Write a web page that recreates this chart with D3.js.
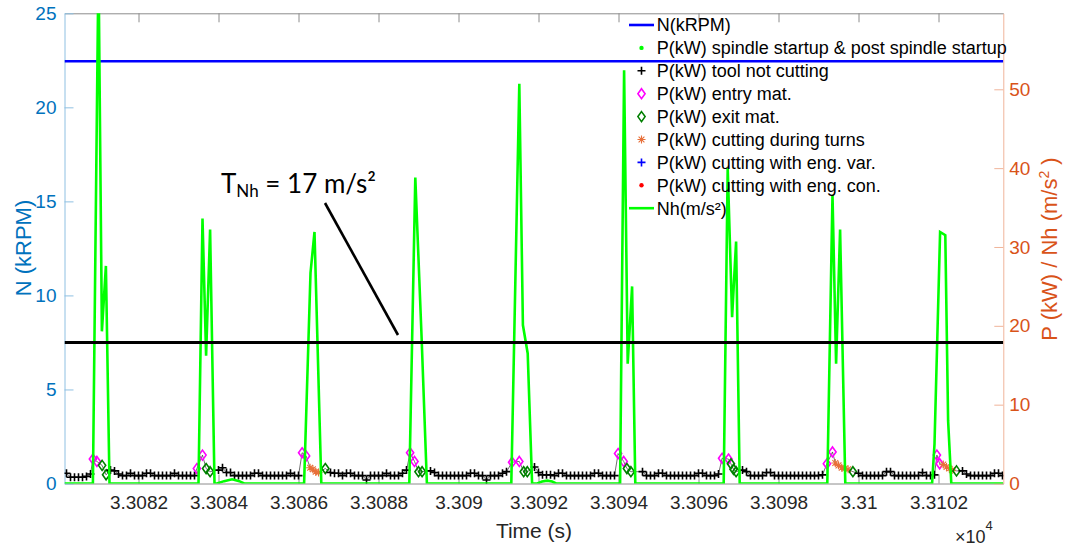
<!DOCTYPE html>
<html><head><meta charset="utf-8">
<script src="https://cdn.jsdelivr.net/npm/d3@7"></script>
<style>
html,body{margin:0;padding:0;background:#fff;}
svg{display:block;font-family:"Liberation Sans",Arial,sans-serif;}
</style></head><body>
<svg id="c" width="1067" height="550"></svg>
<script>
// ---------------- data ----------------
const timeDomain = [33080.15, 33103.62];          // seconds
const xTickVals = [33082,33084,33086,33088,33090,33092,33094,33096,33098,33100,33102];
const xTickLabels = ["3.3082","3.3084","3.3086","3.3088","3.309","3.3092","3.3094","3.3096","3.3098","3.31","3.3102"];
const nDomain = [0, 25];
const nTicks = [0,5,10,15,20,25];
const pDomain = [0, 59.64];
const pTicks = [0,10,20,30,40,50];

// spindle speed N (kRPM)
const nT = [33080.15, 33103.62];
const nV = [22.45, 22.45];
// threshold line (left axis, kRPM scale)
const thresholdN = 7.5;

// Nh (m/s^2)
const nhT = [33080.15, 33080.86, 33081.0, 33081.085, 33081.185, 33081.275,
  33083.5, 33083.6, 33083.69, 33083.79, 33083.9,
  33083.96, 33084.14, 33084.34, 33084.52, 33084.64,
  33086.14, 33086.3, 33086.4, 33086.57,
  33088.77, 33088.92, 33089.08, 33089.21,
  33091.32, 33091.52, 33091.61, 33091.73, 33091.84,
  33091.97, 33092.09, 33092.22, 33092.34, 33092.44,
  33094.04, 33094.14, 33094.23, 33094.34, 33094.42,
  33096.63, 33096.73, 33096.84, 33096.94, 33097.03,
  33099.22, 33099.35, 33099.44, 33099.54, 33099.67,
  33101.84, 33101.9, 33102.04, 33102.17, 33102.24, 33102.32,
  33103.62];
const nhV = [0, 0, 66, 19.3, 27.6, 0,
  0, 33.6, 16.2, 32.2, 0,
  0, 0.3, 0.53, 0.3, 0,
  0, 26.7, 31.9, 0,
  0, 38.8, 18.2, 0,
  0, 50.7, 20.1, 16.5, 0,
  0, 0.25, 0.36, 0.25, 0,
  0, 52.4, 15.2, 25.0, 0,
  0, 40.0, 21.1, 30.7, 0,
  0, 36.6, 15.2, 32.2, 0,
  0, 5, 31.9, 31.5, 8, 0,
  0];

// P (kW) tool not cutting: segments sampled every 0.1 s
const idleStarts = [33080.2, 33081.3, 33084.0, 33086.8, 33089.3, 33091.9, 33094.6, 33097.1, 33100.0, 33102.6];
const idleStep = 0.1;
const idleKW = [
  [1.3, 0.8, 0.8, 0.8, 0.8, 0.9, 1.2],
  [1.7, 1.6, 1.2, 1.0, 1.0, 1.3, 1.0, 1.0, 1.0, 1.3, 1.3, 1.0, 1.0, 1.0, 1.0, 1.0, 1.3, 1.0, 1.0, 1.0, 1.0, 1.0],
  [1.7, 2.0, 1.4, 1.4, 1.0, 1.0, 1.0, 1.0, 1.0, 1.3, 1.3, 1.0, 1.0, 1.0, 1.0, 1.0, 1.0, 1.0, 1.3, 1.0, 1.0],
  [1.4, 1.3, 1.3, 1.0, 1.3, 1.3, 1.0, 1.0, 1.0, 0.45, 1.0, 1.0, 1.0, 1.0, 1.3, 1.0, 1.0, 1.0, 1.3, 1.7],
  [1.6, 1.4, 1.0, 1.0, 1.0, 1.0, 1.0, 1.0, 1.0, 1.0, 1.3, 1.3, 1.0, 1.0, 0.45, 1.0, 1.0, 1.0, 1.3, 1.5],
  [2.1, 1.4, 1.1, 1.1, 1.1, 1.0, 1.3, 1.3, 1.0, 1.0, 1.0, 1.0, 1.0, 1.0, 1.0, 1.3, 1.3, 1.0, 1.0, 1.0, 1.0],
  [1.5, 1.0, 1.0, 1.0, 1.3, 1.3, 1.0, 1.0, 1.0, 1.0, 1.0, 1.0, 1.0, 1.0, 1.3, 1.3, 1.0, 1.0, 1.0, 1.2],
  [1.7, 1.5, 1.0, 1.0, 1.0, 1.0, 1.4, 1.4, 1.0, 1.0, 1.0, 1.0, 1.0, 1.0, 1.0, 1.0, 1.0, 1.0, 1.0, 1.0, 1.1],
  [1.3, 1.0, 1.0, 1.0, 1.0, 1.0, 1.0, 1.5, 1.5, 1.0, 1.0, 1.0, 1.0, 1.0, 1.0, 1.0, 1.4, 1.0, 1.0, 1.1],
  [1.6, 1.2, 1.0, 1.0, 1.0, 1.0, 1.0, 1.0, 1.3, 1.3, 1.0]
];

// P (kW) entry material
const entryT = [33080.86, 33080.96, 33083.46, 33083.6, 33086.09, 33086.19, 33088.79, 33088.9, 33091.34, 33091.52, 33093.99, 33094.13, 33096.59, 33096.75, 33099.21, 33099.35, 33101.96, 33102.03];
const entryKW = [3.1, 2.8, 1.9, 3.6, 3.9, 3.5, 3.9, 2.8, 2.7, 2.8, 3.8, 2.8, 3.2, 3.1, 2.5, 4.0, 3.6, 2.5];
// P (kW) exit material
const exitT = [33081.09, 33081.19, 33083.69, 33083.79, 33086.67, 33089.0, 33089.09, 33091.63, 33091.72, 33094.21, 33094.31, 33096.81, 33096.875, 33096.94, 33099.86, 33102.45];
const exitKW = [2.3, 1.1, 1.9, 1.5, 1.9, 1.5, 1.5, 1.5, 1.5, 1.9, 1.5, 2.5, 1.8, 1.5, 1.5, 1.6];
// P (kW) cutting during turns
const turnT = [33086.29, 33086.36, 33086.43, 33086.5, 33099.42, 33099.5, 33099.58, 33099.66, 33099.74, 33102.12, 33102.2, 33102.27, 33102.34];
const turnKW = [2.0, 1.8, 1.5, 1.4, 2.6, 2.3, 2.0, 1.9, 1.8, 2.4, 2.1, 1.9, 1.7];

const legendLabels = ["N(kRPM)", "P(kW) spindle startup & post spindle startup", "P(kW) tool not cutting",
  "P(kW) entry mat.", "P(kW) exit mat.", "P(kW) cutting during turns", "P(kW) cutting with eng. var.",
  "P(kW) cutting with eng. con.", "Nh(m/s²)"];

// ---------------- drawing ----------------
const L = 64.5, R = 1003.3, T = 13.3, B = 483.5;
const svg = d3.select("#c");
svg.append("rect").attr("width",1067).attr("height",550).attr("fill","#fff");

const x = d3.scaleLinear().domain(timeDomain).range([L, R]);
const yN = d3.scaleLinear().domain(nDomain).range([B, T]);
const yP = d3.scaleLinear().domain(pDomain).range([B, T]);

svg.append("defs").append("clipPath").attr("id","clip")
  .append("rect").attr("x",L).attr("y",T).attr("width",R-L).attr("height",B-T);

const BLUE = "#0072BD", ORANGE = "#D95319";
const fs = 19;

// axes
const gB = svg.append("g").attr("transform",`translate(0,${B})`)
  .call(d3.axisBottom(x).tickValues(xTickVals).tickFormat((d,i)=>xTickLabels[i]).tickSize(-9).tickSizeOuter(0).tickPadding(12.5));
const gT = svg.append("g").attr("transform",`translate(0,${T})`)
  .call(d3.axisTop(x).tickValues(xTickVals).tickFormat("").tickSize(-9).tickSizeOuter(0));
[gB,gT].forEach(g=>{
  g.select(".domain").attr("stroke","#8c8c8c").attr("stroke-width",1);
  g.selectAll(".tick line").attr("stroke","#8c8c8c");
  g.selectAll("text").attr("fill","#262626").attr("font-size",fs).attr("font-family","Liberation Sans");
});
const gL = svg.append("g").attr("transform",`translate(${L},0)`)
  .call(d3.axisLeft(yN).tickValues(nTicks).tickSize(-9).tickSizeOuter(0).tickPadding(8));
gL.select(".domain").attr("stroke","#8fc0e2");
gL.selectAll(".tick line").attr("stroke","#8fc0e2");
gL.selectAll("text").attr("fill",BLUE).attr("font-size",fs).attr("font-family","Liberation Sans");
const gR = svg.append("g").attr("transform",`translate(${R},0)`)
  .call(d3.axisRight(yP).tickValues(pTicks).tickSize(-9).tickSizeOuter(0).tickPadding(6));
gR.select(".domain").attr("stroke","#f0b49a");
gR.selectAll(".tick line").attr("stroke","#f0b49a");
gR.selectAll("text").attr("fill",ORANGE).attr("font-size",fs).attr("font-family","Liberation Sans");

// axis titles
svg.append("text").attr("transform","translate(31,248) rotate(-90)").attr("text-anchor","middle")
  .attr("fill",BLUE).attr("font-size",22).text("N (kRPM)");
const rl = svg.append("text").attr("transform","translate(1057,249) rotate(-90)").attr("text-anchor","middle")
  .attr("fill",ORANGE).attr("font-size",22);
rl.append("tspan").text("P (kW) / Nh (m/s");
rl.append("tspan").attr("font-size",14).attr("dy",-8).text("2");
rl.append("tspan").attr("dy",8).text(" )");
svg.append("text").attr("x",534).attr("y",538).attr("text-anchor","middle")
  .attr("fill","#262626").attr("font-size",21).text("Time (s)");
const ex = svg.append("text").attr("x",955).attr("y",543).attr("fill","#262626").attr("font-size",18);
ex.append("tspan").text("×10");
ex.append("tspan").attr("font-size",13).attr("dy",-13).text("4");

const plot = svg.append("g").attr("clip-path","url(#clip)");

// N line
plot.append("path").datum(nT.map((t,i)=>[t,nV[i]]))
  .attr("fill","none").attr("stroke","#0000FF").attr("stroke-width",2.6)
  .attr("d", d3.line().x(d=>x(d[0])).y(d=>yN(d[1])));

// P combined series
const pts = [];
idleStarts.forEach((s,k)=>idleKW[k].forEach((v,i)=>pts.push({t:s+i*idleStep, v, c:"idle"})));
entryT.forEach((t,i)=>pts.push({t, v:entryKW[i], c:"entry"}));
exitT.forEach((t,i)=>pts.push({t, v:exitKW[i], c:"exit"}));
turnT.forEach((t,i)=>pts.push({t, v:turnKW[i], c:"turn"}));
pts.sort((a,b)=>a.t-b.t);

plot.append("path").datum(pts).attr("fill","none").attr("stroke","#333").attr("stroke-width",0.7)
  .attr("d", d3.line().x(d=>x(d.t)).y(d=>yP(d.v)));

const sym = {
  plus: "M-4,0H4M0,-4V4",
  diamond: "M0,-5L3.6,0L0,5L-3.6,0Z",
  star: "M-4,0H4M0,-4V4M-2.9,-2.9L2.9,2.9M-2.9,2.9L2.9,-2.9"
};
const style = {
  idle: {d:sym.plus, stroke:"#000", w:1.6},
  entry: {d:sym.diamond, stroke:"#FF00FF", w:1.6},
  exit: {d:sym.diamond, stroke:"#007F00", w:1.6},
  turn: {d:sym.star, stroke:"#E8703A", w:1.1}
};
plot.selectAll("path.mk").data(pts).enter().append("path").attr("class","mk")
  .attr("transform",d=>`translate(${x(d.t)},${yP(d.v)})`)
  .attr("d",d=>style[d.c].d).attr("fill","none")
  .attr("stroke",d=>style[d.c].stroke).attr("stroke-width",d=>style[d.c].w);

// Nh line
plot.append("path").datum(nhT.map((t,i)=>[t,nhV[i]]))
  .attr("fill","none").attr("stroke","#00FF00").attr("stroke-width",2.6).attr("stroke-linejoin","miter")
  .attr("d", d3.line().x(d=>x(d[0])).y(d=>yP(d[1])));

// threshold line
plot.append("line").attr("x1",L).attr("x2",R).attr("y1",yN(thresholdN)).attr("y2",yN(thresholdN))
  .attr("stroke","#000").attr("stroke-width",3);

// annotation
svg.append("line").attr("x1",325).attr("y1",203).attr("x2",398).attr("y2",335)
  .attr("stroke","#000").attr("stroke-width",2.6);
const an = svg.append("text").attr("x",221).attr("y",193).attr("font-family","Lato, 'Open Sans', sans-serif")
  .attr("font-size",26).attr("fill","#000");
an.append("tspan").text("T");
an.append("tspan").attr("font-size",17).attr("dy",4).text("Nh");
an.append("tspan").attr("dy",-4).text(" = 17 m/s²");

// legend
const lx = 629, lw = 25, tx = 656.7, ly0 = 25, ldy = 22.9;
const lg = svg.append("g");
legendLabels.forEach((lab,i)=>{
  const y = ly0 + i*ldy, cx = lx + lw/2;
  if (i===0) lg.append("line").attr("x1",lx).attr("x2",lx+lw).attr("y1",y).attr("y2",y).attr("stroke","#0000FF").attr("stroke-width",2.6);
  if (i===8) lg.append("line").attr("x1",lx).attr("x2",lx+lw).attr("y1",y).attr("y2",y).attr("stroke","#00FF00").attr("stroke-width",2.6);
  if (i===1) lg.append("circle").attr("cx",cx).attr("cy",y).attr("r",2.2).attr("fill","#00FF00");
  if (i===2) lg.append("path").attr("transform",`translate(${cx},${y})`).attr("d",sym.plus).attr("stroke","#000").attr("stroke-width",1.6);
  if (i===3) lg.append("path").attr("transform",`translate(${cx},${y})`).attr("d",sym.diamond).attr("fill","none").attr("stroke","#FF00FF").attr("stroke-width",1.6);
  if (i===4) lg.append("path").attr("transform",`translate(${cx},${y})`).attr("d",sym.diamond).attr("fill","none").attr("stroke","#007F00").attr("stroke-width",1.6);
  if (i===5) lg.append("path").attr("transform",`translate(${cx},${y})`).attr("d",sym.star).attr("fill","none").attr("stroke","#E8703A").attr("stroke-width",1.1);
  if (i===6) lg.append("path").attr("transform",`translate(${cx},${y})`).attr("d",sym.plus).attr("stroke","#0000FF").attr("stroke-width",1.6);
  if (i===7) lg.append("circle").attr("cx",cx).attr("cy",y).attr("r",2.2).attr("fill","#FF0000");
  lg.append("text").attr("x",tx).attr("y",y).attr("dy","0.35em").attr("font-size",18).attr("fill","#000").text(lab);
});
</script>
</body></html>
